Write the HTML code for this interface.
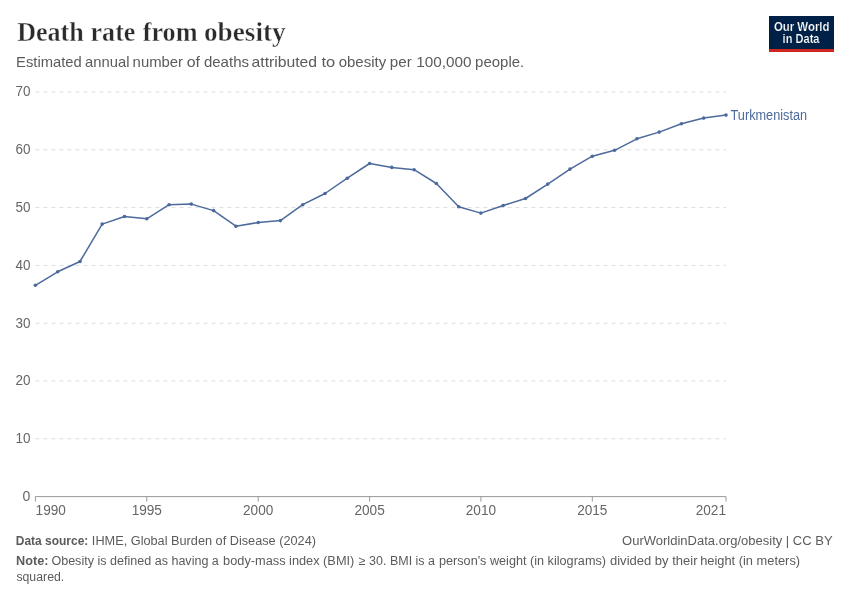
<!DOCTYPE html>
<html><head><meta charset="utf-8"><style>
html,body{margin:0;padding:0;background:#fff;width:850px;height:600px;overflow:hidden}
svg{display:block;will-change:transform;font-family:"Liberation Sans",sans-serif}
</style></head><body>
<svg width="850" height="600" viewBox="0 0 850 600">
<g font-family="Liberation Serif" font-weight="bold" font-size="28" fill="#2b2b2b" stroke="#fff" stroke-width="0.4"><text x="17.2" y="40.7" textLength="66.61" lengthAdjust="spacingAndGlyphs">Death</text><text x="90.57" y="40.7" textLength="44.8" lengthAdjust="spacingAndGlyphs">rate</text><text x="142.7" y="40.7" textLength="54.84" lengthAdjust="spacingAndGlyphs">from</text><text x="204.03" y="40.7" textLength="81.57" lengthAdjust="spacingAndGlyphs">obesity</text></g>
<g font-size="15" fill="#5b5b5b"><text x="16.08" y="66.8" textLength="65.68" lengthAdjust="spacingAndGlyphs">Estimated</text><text x="85.11" y="66.8" textLength="44.42" lengthAdjust="spacingAndGlyphs">annual</text><text x="132.61" y="66.8" textLength="50.45" lengthAdjust="spacingAndGlyphs">number</text><text x="186.74" y="66.8" textLength="13.25" lengthAdjust="spacingAndGlyphs">of</text><text x="203.9" y="66.8" textLength="45.15" lengthAdjust="spacingAndGlyphs">deaths</text><text x="251.55" y="66.8" textLength="65.52" lengthAdjust="spacingAndGlyphs">attributed</text><text x="321.5" y="66.8" textLength="13.77" lengthAdjust="spacingAndGlyphs">to</text><text x="338.7" y="66.8" textLength="47.43" lengthAdjust="spacingAndGlyphs">obesity</text><text x="389.89" y="66.8" textLength="21.89" lengthAdjust="spacingAndGlyphs">per</text><text x="416.28" y="66.8" textLength="55.36" lengthAdjust="spacingAndGlyphs">100,000</text><text x="475.1" y="66.8" textLength="49.11" lengthAdjust="spacingAndGlyphs">people.</text></g>
<g>
<rect x="769" y="16" width="65" height="36" fill="#002147"/>
<rect x="769" y="49" width="65" height="3" fill="#ce261e"/>
<text x="773.9" y="30.7" font-size="12.2" font-weight="bold" fill="#fff" stroke="#002147" stroke-width="0.2" textLength="55.64" lengthAdjust="spacingAndGlyphs">Our World</text>
<text x="782.6" y="42.8" font-size="12.2" font-weight="bold" fill="#fff" stroke="#002147" stroke-width="0.2" textLength="36.88" lengthAdjust="spacingAndGlyphs">in Data</text>
</g>
<g stroke="#ddd" stroke-width="1" stroke-dasharray="4,4">
<line x1="35.5" y1="92.0" x2="726" y2="92.0"/>
<line x1="35.5" y1="149.8" x2="726" y2="149.8"/>
<line x1="35.5" y1="207.6" x2="726" y2="207.6"/>
<line x1="35.5" y1="265.4" x2="726" y2="265.4"/>
<line x1="35.5" y1="323.2" x2="726" y2="323.2"/>
<line x1="35.5" y1="381.0" x2="726" y2="381.0"/>
<line x1="35.5" y1="438.8" x2="726" y2="438.8"/>
</g>
<g font-size="14" fill="#666" text-anchor="end">
<text x="30.4" y="96.4" textLength="15" lengthAdjust="spacingAndGlyphs">70</text>
<text x="30.4" y="154.2" textLength="15" lengthAdjust="spacingAndGlyphs">60</text>
<text x="30.4" y="212.0" textLength="15" lengthAdjust="spacingAndGlyphs">50</text>
<text x="30.4" y="269.8" textLength="15" lengthAdjust="spacingAndGlyphs">40</text>
<text x="30.4" y="327.6" textLength="15" lengthAdjust="spacingAndGlyphs">30</text>
<text x="30.4" y="385.4" textLength="15" lengthAdjust="spacingAndGlyphs">20</text>
<text x="30.4" y="443.2" textLength="15" lengthAdjust="spacingAndGlyphs">10</text>
<text x="30.4" y="501.0">0</text>
</g>
<line x1="35.3" y1="496.6" x2="726.0" y2="496.6" stroke="#999" stroke-width="1"/>
<g stroke="#999" stroke-width="1">
<line x1="146.8" y1="496.6" x2="146.8" y2="501.6"/>
<line x1="258.2" y1="496.6" x2="258.2" y2="501.6"/>
<line x1="369.6" y1="496.6" x2="369.6" y2="501.6"/>
<line x1="480.9" y1="496.6" x2="480.9" y2="501.6"/>
<line x1="592.3" y1="496.6" x2="592.3" y2="501.6"/>
<line x1="35.4" y1="496.6" x2="35.4" y2="501.6"/>
<line x1="726.0" y1="496.6" x2="726.0" y2="501.6"/>
</g>
<g font-size="14" fill="#666" lengthAdjust="spacingAndGlyphs">
<text x="35.6" y="515" textLength="30.3" lengthAdjust="spacingAndGlyphs">1990</text>
<text x="146.8" y="515" text-anchor="middle" textLength="30.3" lengthAdjust="spacingAndGlyphs">1995</text>
<text x="258.2" y="515" text-anchor="middle" textLength="30.3" lengthAdjust="spacingAndGlyphs">2000</text>
<text x="369.6" y="515" text-anchor="middle" textLength="30.3" lengthAdjust="spacingAndGlyphs">2005</text>
<text x="480.9" y="515" text-anchor="middle" textLength="30.3" lengthAdjust="spacingAndGlyphs">2010</text>
<text x="592.3" y="515" text-anchor="middle" textLength="30.3" lengthAdjust="spacingAndGlyphs">2015</text>
<text x="726" y="515" text-anchor="end" textLength="30.3" lengthAdjust="spacingAndGlyphs">2021</text>
</g>
<path d="M35.4,285.3 L57.7,271.8 L80.0,261.5 L102.2,224.1 L124.5,216.5 L146.8,218.8 L169.1,204.7 L191.3,204.1 L213.6,210.6 L235.9,226.2 L258.2,222.5 L280.4,220.6 L302.7,204.7 L325.0,193.5 L347.3,178.2 L369.6,163.5 L391.8,167.4 L414.1,169.7 L436.4,183.5 L458.7,206.8 L480.9,213.1 L503.2,205.5 L525.5,198.5 L547.8,184.1 L570.0,169.1 L592.3,156.2 L614.6,150.3 L636.9,138.8 L659.2,132.1 L681.4,123.7 L703.7,118.1 L726.0,115.1" fill="none" stroke="#4c6a9c" stroke-width="1.5" stroke-linejoin="round"/>
<g fill="#4c6a9c">
<circle cx="35.4" cy="285.3" r="1.8"/>
<circle cx="57.7" cy="271.8" r="1.8"/>
<circle cx="80.0" cy="261.5" r="1.8"/>
<circle cx="102.2" cy="224.1" r="1.8"/>
<circle cx="124.5" cy="216.5" r="1.8"/>
<circle cx="146.8" cy="218.8" r="1.8"/>
<circle cx="169.1" cy="204.7" r="1.8"/>
<circle cx="191.3" cy="204.1" r="1.8"/>
<circle cx="213.6" cy="210.6" r="1.8"/>
<circle cx="235.9" cy="226.2" r="1.8"/>
<circle cx="258.2" cy="222.5" r="1.8"/>
<circle cx="280.4" cy="220.6" r="1.8"/>
<circle cx="302.7" cy="204.7" r="1.8"/>
<circle cx="325.0" cy="193.5" r="1.8"/>
<circle cx="347.3" cy="178.2" r="1.8"/>
<circle cx="369.6" cy="163.5" r="1.8"/>
<circle cx="391.8" cy="167.4" r="1.8"/>
<circle cx="414.1" cy="169.7" r="1.8"/>
<circle cx="436.4" cy="183.5" r="1.8"/>
<circle cx="458.7" cy="206.8" r="1.8"/>
<circle cx="480.9" cy="213.1" r="1.8"/>
<circle cx="503.2" cy="205.5" r="1.8"/>
<circle cx="525.5" cy="198.5" r="1.8"/>
<circle cx="547.8" cy="184.1" r="1.8"/>
<circle cx="570.0" cy="169.1" r="1.8"/>
<circle cx="592.3" cy="156.2" r="1.8"/>
<circle cx="614.6" cy="150.3" r="1.8"/>
<circle cx="636.9" cy="138.8" r="1.8"/>
<circle cx="659.2" cy="132.1" r="1.8"/>
<circle cx="681.4" cy="123.7" r="1.8"/>
<circle cx="703.7" cy="118.1" r="1.8"/>
<circle cx="726.0" cy="115.1" r="1.8"/>
</g>
<text x="730.5" y="119.8" font-size="14" fill="#4c6a9c" textLength="76.68" lengthAdjust="spacingAndGlyphs">Turkmenistan</text>
<g font-size="12.5" fill="#5b5b5b" lengthAdjust="spacingAndGlyphs">
<text x="16.08" y="565.3" font-weight="bold" textLength="32.49" lengthAdjust="spacingAndGlyphs">Note:</text>
<text x="51.4" y="565.3" textLength="167.48" lengthAdjust="spacingAndGlyphs">Obesity is defined as having a</text>
<text x="223.08" y="565.3" textLength="131.25" lengthAdjust="spacingAndGlyphs">body-mass index (BMI)</text>
<text x="358.8" y="565.3" textLength="76.24" lengthAdjust="spacingAndGlyphs">≥ 30. BMI is a</text>
<text x="438.99" y="565.3" textLength="166.98" lengthAdjust="spacingAndGlyphs">person's weight (in kilograms)</text>
<text x="610.0" y="565.3" textLength="87.48" lengthAdjust="spacingAndGlyphs">divided by their</text>
<text x="700.17" y="565.3" textLength="99.93" lengthAdjust="spacingAndGlyphs">height (in meters)</text>
<text x="16.4" y="580.5" textLength="47.85" lengthAdjust="spacingAndGlyphs">squared.</text>
<text x="15.74" y="545.1" font-weight="bold" textLength="72.56" lengthAdjust="spacingAndGlyphs">Data source:</text>
<text x="91.88" y="545.1" textLength="224.09" lengthAdjust="spacingAndGlyphs">IHME, Global Burden of Disease (2024)</text>
<text x="622.06" y="545.1" textLength="210.56" lengthAdjust="spacingAndGlyphs">OurWorldinData.org/obesity | CC BY</text>
</g>
</svg>
</body></html>
